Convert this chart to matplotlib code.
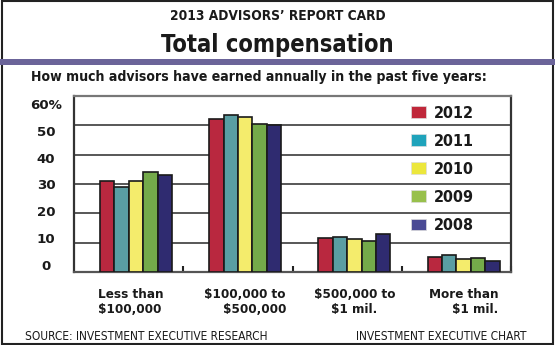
import matplotlib
matplotlib.use("Agg")
import matplotlib.pyplot as plt
from matplotlib.patches import Patch, Rectangle
import numpy as np

# Data
categories = ["Less than\n$100,000", "$100,000 to\n$500,000", "$500,000 to\n$1 mil.", "More than\n$1 mil."]
label_align = ["left", "right", "center", "right"]
years = ["2012", "2011", "2010", "2009", "2008"]
v2012 = [31, 52.2, 11.5, 5.1]
v2011 = [29, 53.4, 12, 5.7]
v2010 = [31, 53, 11.1, 4.4]
v2009 = [34, 50.3, 10.5, 4.7]
v2008 = [33, 50.1, 12.9, 3.9]
series = [v2012, v2011, v2010, v2009, v2008]
yticks = [0, 10, 20, 30, 40, 50, 60]
ytick_labels = ["0", "10", "20", "30", "40", "50", "60%"]

bar_colors = ["#b9283f", "#5a9ea3", "#f4ec6c", "#74aa4a", "#2f2b70"]
legend_colors = ["#c0273a", "#1fa3bb", "#ece73c", "#98c04c", "#4a4a94"]

COND = dict(family="DejaVu Sans", stretch="condensed")
INK = "#1a1a1a"

fig = plt.figure(figsize=(5.55, 3.45), dpi=100)
fig.patch.set_facecolor("white")

# outer frame
fig.add_artist(Rectangle((0.003, 0.004), 0.994, 0.992, transform=fig.transFigure,
                         fill=False, edgecolor="#222222", linewidth=1.5))
# purple band under the heading
fig.add_artist(Rectangle((0.0, 1 - 64.5 / 345), 1.0, 6 / 345, transform=fig.transFigure,
                         facecolor="#6b6499", edgecolor="none"))

fig.text(0.5, 1 - 16 / 345, "2013 ADVISORS\u2019 REPORT CARD", ha="center", va="center",
         fontsize=9.8, fontweight="bold", color=INK, **COND)
fig.text(0.5, 1 - 45 / 345, "Total compensation", ha="center", va="center",
         fontsize=17, fontweight="bold", color=INK, **COND)
fig.text(31 / 555, 1 - 77 / 345, "How much advisors have earned annually in the past five years:",
         ha="left", va="center", fontsize=10.1, fontweight="bold", color=INK, **COND)
fig.text(25 / 555, 1 - 336 / 345, "SOURCE: INVESTMENT EXECUTIVE RESEARCH", ha="left", va="center",
         fontsize=8.6, color=INK, **COND)
fig.text(527 / 555, 1 - 336 / 345, "INVESTMENT EXECUTIVE CHART", ha="right", va="center",
         fontsize=8.6, color=INK, **COND)

ax = fig.add_axes([74 / 555, 1 - 272 / 345, 437 / 555, 176 / 345])
x = np.arange(len(categories))
w = 0.132
for i, (vals, c) in enumerate(zip(series, bar_colors)):
    ax.bar(x + (i - 2) * w, vals, width=w, color=c, edgecolor=INK, linewidth=1.2, zorder=3)

ax.set_xlim(-0.567, 3.433)
ax.set_ylim(0, 60)
ax.set_yticks(yticks)
ax.set_yticklabels([])
ax.tick_params(axis="y", length=0)
for yv in yticks[1:-1]:
    ax.axhline(yv, color="#2a2a2a", linewidth=1.1, zorder=1)

# value scale labels: a centred column set slightly inside the plotted range
for yv, lab in zip(yticks, ytick_labels):
    ax.text(-28 / 437, (2 + 0.912 * yv) / 60, lab, transform=ax.transAxes, ha="center",
            va="center", fontsize=9.6, fontweight="bold", color=INK, family="DejaVu Sans")

ax.set_xticks(x)
ax.set_xticklabels([])
ax.tick_params(axis="x", length=0)
for xi, lab, al in zip(x, categories, label_align):
    ax.text(xi - (0.045 if al == "left" else 0), -0.09, lab, transform=ax.get_xaxis_transform(),
            ha="center", va="top", multialignment=al, fontsize=9.6, fontweight="bold",
            color=INK, linespacing=1.25, **COND)
ax.set_xticks(x + 0.433, minor=True)
ax.tick_params(axis="x", which="minor", direction="in", length=4, width=1.5, color="#222222")

for side, col in [("left", "#333333"), ("right", "#333333"), ("top", "#777777"), ("bottom", "#555555")]:
    ax.spines[side].set_color(col)
    ax.spines[side].set_linewidth(1.6)

handles = [Patch(facecolor=c, edgecolor="#dddddd", linewidth=0.5) for c in legend_colors]
leg = ax.legend(handles, years, loc="upper left", bbox_to_anchor=(0.749, 1.0), frameon=False,
                handlelength=0.95, handleheight=0.75, handletextpad=0.5,
                labelspacing=0.82, borderaxespad=0.2,
                prop=dict(family="DejaVu Sans", stretch="condensed", weight="bold", size=11.5))
for t in leg.get_texts():
    t.set_color(INK)
leg.set_zorder(5)

fig.savefig("out.png", dpi=100, facecolor="white")
